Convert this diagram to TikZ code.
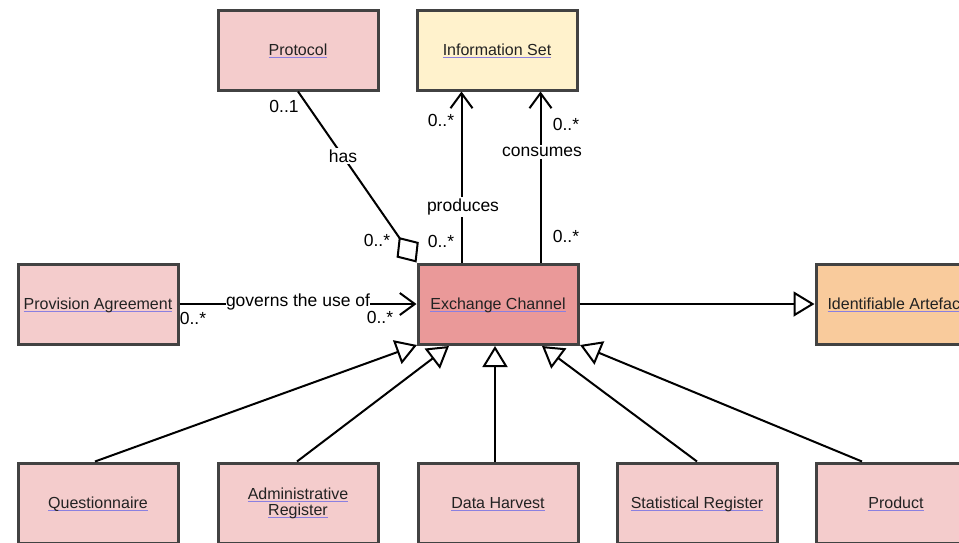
\documentclass[tikz,border=0pt]{standalone}
\usepackage{fontspec}
\setmainfont{Liberation Sans}
\usetikzlibrary{arrows.meta,calc}
\definecolor{ulc}{HTML}{8A80E0}
\definecolor{bordc}{HTML}{424242}
\definecolor{txtc}{HTML}{222222}
\definecolor{pinkc}{HTML}{F4CCCC}
\definecolor{yelc}{HTML}{FFF2CC}
\definecolor{redc}{HTML}{EA9999}
\definecolor{orac}{HTML}{F9CB9C}
\newsavebox\lkbox
\newcommand\lkline[1]{\sbox\lkbox{#1}\rlap{\smash{\textcolor{ulc}{\rule[-2.6pt]{\wd\lkbox}{1.1pt}}}}\usebox\lkbox}
\begin{document}
\begin{tikzpicture}[x=1pt,y=-1pt,
  box/.style={draw=bordc, line width=3pt, minimum width=160pt, minimum height=80pt,
    inner sep=0pt, font=\fontsize{16}{17}\selectfont, text=txtc, align=center},
  onel/.style={text height=11.5pt, text depth=0pt},
  lab/.style={font=\fontsize{17.5}{19}\selectfont, inner sep=1pt, text=black},
  onl/.style={lab, fill=white, inner xsep=0.5pt, inner ysep=2pt},
  con/.style={line width=2pt, black},
  barb/.style={con, -{Straight Barb[length=15pt, width=22pt]}},
  gen/.style={con, -{Triangle[fill=white, length=21pt, width=25pt]}},
  agg/.style={con, -{Diamond[fill=white, length=31pt, width=27pt]}}]
\useasboundingbox (0,0) rectangle (959,542);
\clip (0,0) rectangle (959,542);
\fill[white] (0,0) rectangle (959,542);

% boxes
\node[box, onel, fill=pinkc] (proto) at (298,50) {\lkline{Protocol}};
\node[box, onel, fill=yelc] (info) at (497,50) {\lkline{Information Set}};
\node[box, onel, fill=pinkc] (prov) at (98,304) {\lkline{Provision Agreement}};
\node[box, onel, fill=redc] (ec) at (498,304) {\lkline{Exchange Channel}};
\node[box, onel, fill=orac] (ia) at (896,304) {\lkline{Identifiable Artefact}};
\node[box, onel, fill=pinkc] (q) at (98,503) {\lkline{Questionnaire}};
\node[box, fill=pinkc] (adm) at (298,503) {\lkline{Administrative}\\[-1pt]\lkline{Register}};
\node[box, onel, fill=pinkc] (dh) at (498,503) {\lkline{Data Harvest}};
\node[box, onel, fill=pinkc] (sr) at (697,503) {\lkline{Statistical Register}};
\node[box, onel, fill=pinkc] (prod) at (896,503) {\lkline{Product}};

% has (aggregation)
\draw[agg] (proto.south) -- (ec.north west);
\node[onl] (hasl) at (343,156) {has};
\node[lab] (has1) at (284,106) {0..1};
\node[lab] (has2) at (377,240) {0..*};

% produces
\coordinate (pS) at ($(ec.north west)+(45,0)$);
\coordinate (pT) at ($(info.south west)+(46,0)$);
\draw[barb] (pS) -- (pT);
\node[onl] (prl) at (463,207) {produces};
\node[lab] (pr1) at (441,120) {0..*};
\node[lab] (pr2) at (441,241) {0..*};

% consumes
\coordinate (cS) at ($(ec.north west)+(124,0)$);
\coordinate (cT) at ($(info.south west)+(125,0)$);
\draw[barb] (cS) -- (cT);
\node[onl] (col) at (542,152) {consumes};
\node[lab] (co1) at (566,124) {0..*};
\node[lab] (co2) at (566,236) {0..*};

% governs
\draw[barb] (prov.east) -- (ec.west);
\node[onl, inner ysep=0pt] (gol) at (298,302) {governs the use of};
\node[lab] (go1) at (193,318) {0..*};
\node[lab] (go2) at (380,317) {0..*};

% generalisation to Identifiable Artefact
\draw[gen] (ec.east) -- (ia.west);

% inheritance from bottom boxes
\coordinate (tq) at (417,345);
\coordinate (tadm) at (449,346);
\coordinate (tdh) at (495,346);
\coordinate (tsr) at (542,346);
\coordinate (tprod) at (580,345);
\draw[gen] ($(q.north)+(-3,0)$) -- (tq);
\draw[gen] ($(adm.north)+(-1,0)$) -- (tadm);
\draw[gen] ($(dh.north)+(-3,0)$) -- (tdh);
\draw[gen] (sr.north) -- (tsr);
\draw[gen] ($(prod.north)+(-34,0)$) -- (tprod);
\end{tikzpicture}
\end{document}
